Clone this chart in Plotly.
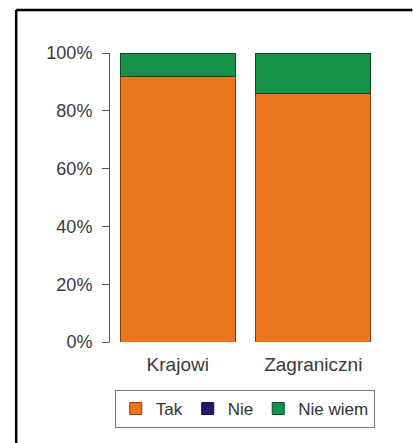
import plotly.graph_objects as go

categories = ["Krajowi", "Zagraniczni"]
tak = [92, 86]
nie = [0, 0]
nie_wiem = [8, 14]
tick_vals = [0, 20, 40, 60, 80, 100]
tick_text = ["0%", "20%", "40%", "60%", "80%", "100%"]

FONT = "Liberation Sans, Arial, sans-serif"

# body margin is removed in the page, so figure coords = picture coords
W, H = 413, 443
L = 110
T = 53
Rx = 381.5
By = 342
R = W - Rx
B = H - By
pw = Rx - L
ph = By - T


def px_x(p):
    return (p - L) / pw


def px_y(p):
    return (By - p) / ph


fig = go.Figure()
fig.add_trace(go.Bar(name="Tak", x=categories, y=tak,
                     marker=dict(color="#EC7620", line=dict(color="#8A3A08", width=1))))
fig.add_trace(go.Bar(name="Nie", x=categories, y=nie,
                     marker=dict(color="#221C6E", line=dict(color="#120E40", width=1))))
fig.add_trace(go.Bar(name="Nie wiem", x=categories, y=nie_wiem,
                     marker=dict(color="#15924A", line=dict(color="#0A4A22", width=1))))

fig.update_layout(
    barmode="stack",
    bargap=0.15,
    width=W, height=H,
    margin=dict(l=L, r=R, t=T, b=B),
    paper_bgcolor="white",
    plot_bgcolor="white",
    font=dict(family=FONT, size=17, color="#333333"),
    xaxis=dict(showline=False, ticks="", ticklabelstandoff=9,
               tickfont=dict(size=19, color="#3a3a3a")),
    yaxis=dict(range=[0, 100], tickvals=tick_vals, ticktext=tick_text,
               showgrid=False, zeroline=False, showline=True, linecolor="#555555",
               linewidth=1, ticks="outside", ticklen=7, tickcolor="#555555",
               ticklabelstandoff=6,
               tickfont=dict(size=18, color="#3a3a3a")),
    legend=dict(orientation="h", x=px_x(245), xanchor="center",
                y=px_y(390), yanchor="top",
                bordercolor="#777777", borderwidth=1,
                font=dict(size=17, color="#333333"),
                itemwidth=30, traceorder="normal"),
    showlegend=True,
    shapes=[
        dict(type="line", xref="paper", yref="paper",
             x0=px_x(16), x1=px_x(413), y0=px_y(10), y1=px_y(10),
             line=dict(color="black", width=2.5)),
        dict(type="line", xref="paper", yref="paper",
             x0=px_x(16), x1=px_x(16), y0=px_y(10), y1=px_y(443),
             line=dict(color="black", width=2.5)),
    ],
)

fig.write_html("out.html",
               config={"displayModeBar": False},
               post_script="document.documentElement.style.overflow='hidden';"
                           "document.body.style.margin='0';"
                           "document.body.style.overflow='hidden';")
